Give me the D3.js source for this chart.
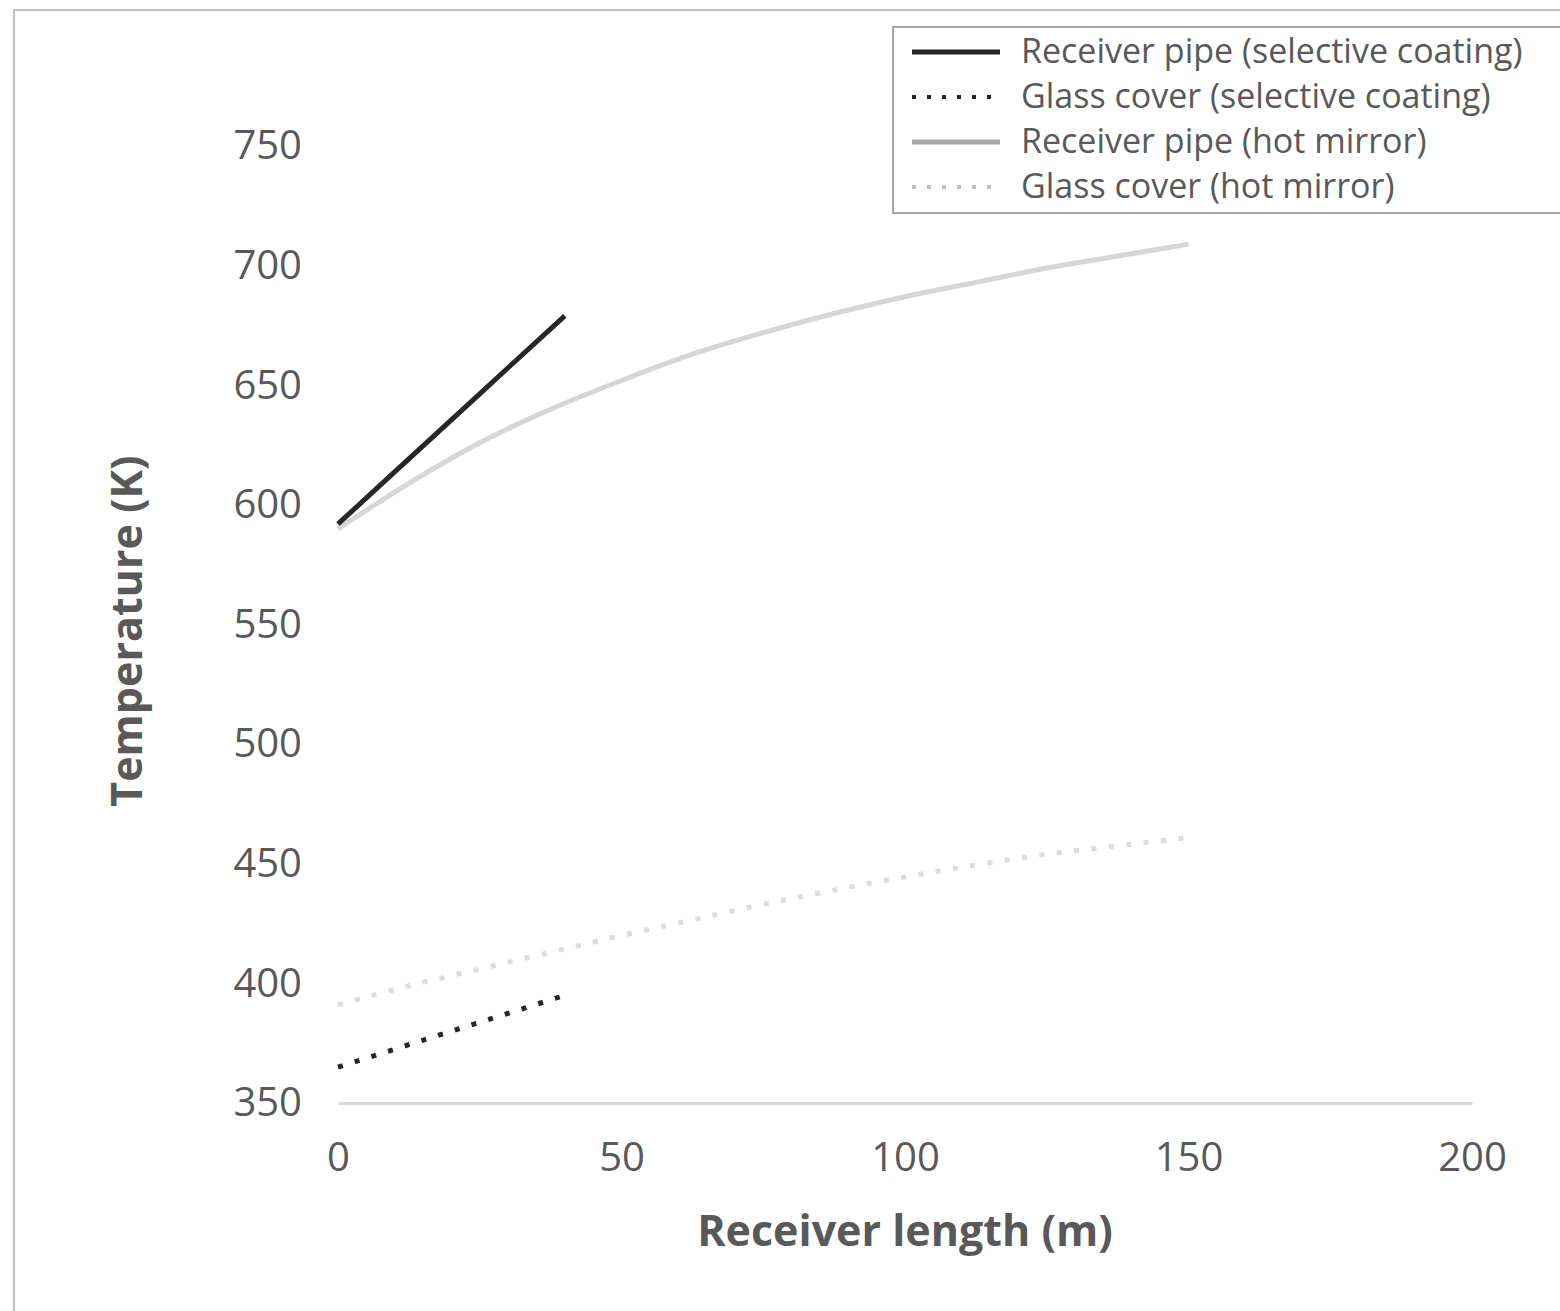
<!DOCTYPE html>
<html>
<head>
<meta charset="utf-8">
<script src="https://cdn.jsdelivr.net/npm/d3@7"></script>
<style>
    body { margin: 0; background: #ffffff; }
    .tick text { font-family: "Open Sans", sans-serif; font-size: 40px; fill: #595959; }
    .axisTitle { font-family: "Open Sans", sans-serif; font-size: 43px; font-weight: bold; fill: #595959; }
    .legendText { font-family: "Open Sans", sans-serif; font-size: 34px; fill: #595959; }
</style>
</head>
<body>
<div id="graph"></div>
<script>

// 
// Data...
// 
var pipeSelX   = [0, 10, 20, 30, 40];
var pipeSelY   = [592, 613.8, 635.5, 657.3, 679];

var glassSelX  = [0, 10, 20, 30, 40];
var glassSelY  = [365, 372.5, 380, 387.5, 395];

var pipeHotX   = [0, 12.5, 25, 37.5, 50, 62.5, 75, 87.5, 100, 112.5, 125, 137.5, 150];
var pipeHotY   = [590, 609, 626, 640, 652, 663, 672, 680, 687, 693, 699, 704, 709];

var glassHotX  = [0, 12.5, 25, 37.5, 50, 62.5, 75, 87.5, 100, 112.5, 125, 137.5, 150];
var glassHotY  = [391, 399, 406, 413, 420, 426.5, 433, 439, 444.5, 449.5, 454, 457.5, 461];

var xTicks = [0, 50, 100, 150, 200];
var yTicks = [350, 400, 450, 500, 550, 600, 650, 700, 750];

var legendNames = ['Receiver pipe (selective coating)',
                   'Glass cover (selective coating)',
                   'Receiver pipe (hot mirror)',
                   'Glass cover (hot mirror)'];


function D3SVGApp ()
{
    var W = 1560;
    var H = 1311;

    var plot = { left: 338, right: 1472, top: 146, bottom: 1103 };

    var xScale = d3.scaleLinear ()
                   .domain ([0, 200])
                   .range ([plot.left, plot.right]);

    var yScale = d3.scaleLinear ()
                   .domain ([350, 750])
                   .range ([plot.bottom, plot.top]);

    var zip = function (xs, ys)
    {
        return xs.map (function (x, i) { return { x: x, y: ys[i] }; });
    };

    var series = [
        { name: legendNames[0], data: zip (pipeSelX,  pipeSelY),  color: '#262626', dash: null,     width: 5, legendColor: '#262626' },
        { name: legendNames[1], data: zip (glassSelX, glassSelY), color: '#262626', dash: '5,12.5', width: 5, legendColor: '#262626' },
        { name: legendNames[2], data: zip (pipeHotX,  pipeHotY),  color: '#d6d6d6', dash: null,     width: 5, legendColor: '#a6a6a6' },
        { name: legendNames[3], data: zip (glassHotX, glassHotY), color: '#dcdcdc', dash: '5,12.5', width: 5, legendColor: '#bfbfbf' }
    ];

    var svg = d3.select ('div#graph')
                .append ('svg')
                .attr ('width', W)
                .attr ('height', H);

    // outer chart frame
    svg.append ('rect')
       .attr ('x', 14)
       .attr ('y', 10)
       .attr ('width', W - 14 + 5)
       .attr ('height', H - 10 + 5)
       .attr ('fill', '#ffffff')
       .attr ('stroke', '#bfbfbf')
       .attr ('stroke-width', 2);

    // X axis (only the baseline is visible)
    var xAxis = d3.axisBottom (xScale)
                  .tickValues (xTicks)
                  .tickSize (0)
                  .tickPadding (40);

    var gx = svg.append ('g')
                .attr ('class', 'x axis')
                .attr ('transform', 'translate(0,' + plot.bottom + ')')
                .call (xAxis);

    gx.select ('.domain').attr ('stroke', '#d9d9d9').attr ('stroke-width', 3);

    var yAxis = d3.axisLeft (yScale)
                  .tickValues (yTicks)
                  .tickSize (0)
                  .tickPadding (36);

    var gy = svg.append ('g')
                .attr ('class', 'y axis')
                .attr ('transform', 'translate(' + plot.left + ',0)')
                .call (yAxis);

    gy.select ('.domain').remove ();

    var line = d3.line ()
                 .x (function (d) { return xScale (d.x); })
                 .y (function (d) { return yScale (d.y); })
                 .curve (d3.curveMonotoneX);

    // draw the light series first so that the dark ones sit on top
    [2, 3, 0, 1].forEach (function (k)
    {
        var s = series[k];
        svg.append ('path')
           .datum (s.data)
           .attr ('fill', 'none')
           .attr ('stroke', s.color)
           .attr ('stroke-width', s.width)
           .attr ('stroke-dasharray', s.dash)
           .attr ('d', line);
    });

    // axis titles
    svg.append ('text')
       .attr ('class', 'axisTitle')
       .style ('text-anchor', 'middle')
       .attr ('transform', 'translate(142,631) rotate(-90)')
       .text ('Temperature (K)');

    svg.append ('text')
       .attr ('class', 'axisTitle')
       .style ('text-anchor', 'middle')
       .attr ('x', 905)
       .attr ('y', 1246)
       .text ('Receiver length (m)');

    // legend
    var legend = svg.append ('g')
                    .attr ('transform', 'translate(893,27)');

    legend.append ('rect')
          .attr ('width', 670)
          .attr ('height', 186)
          .attr ('fill', '#ffffff')
          .attr ('stroke', '#a6a6a6')
          .attr ('stroke-width', 2);

    series.forEach (function (s, i)
    {
        var cy = 25 + i * 45;

        legend.append ('line')
              .attr ('x1', 19)
              .attr ('x2', 107)
              .attr ('y1', cy)
              .attr ('y2', cy)
              .attr ('stroke', s.legendColor)
              .attr ('stroke-width', s.dash ? 4 : 5)
              .attr ('stroke-dasharray', s.dash ? '4,11' : null);

        legend.append ('text')
              .attr ('class', 'legendText')
              .attr ('x', 128)
              .attr ('y', cy + 11)
              .text (s.name);
    });
}

D3SVGApp ();

</script>
</body>
</html>
